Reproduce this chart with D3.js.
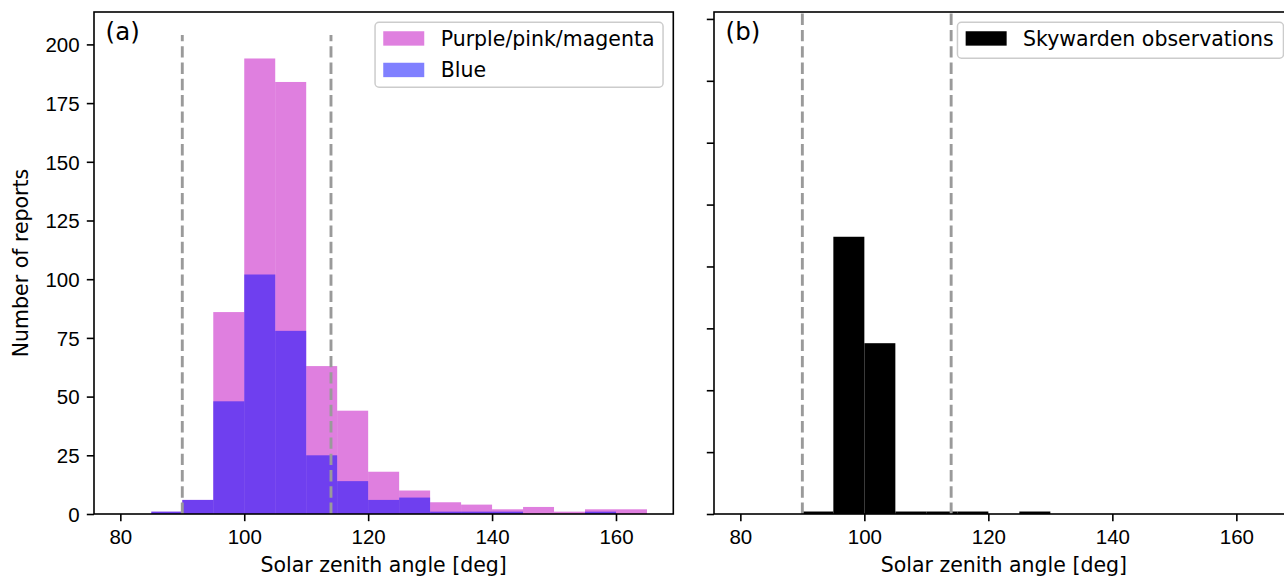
<!DOCTYPE html>
<html>
<head>
<meta charset="utf-8">
<script src="https://cdn.jsdelivr.net/npm/d3@7"></script>
<style>
  body { margin: 0; background: #fff; }
  svg { display: block; font-family: "DejaVu Sans", sans-serif; }
</style>
</head>
<body>
<div id="chart"></div>
<script>
// histogram bins, 5 deg wide (left edges)
const binStarts = [80, 85, 90, 95, 100, 105, 110, 115, 120, 125, 130, 135, 140, 145, 150, 155, 160];
const binWidth = 5;
// panel (a)
const pinkCounts = [0, 1, 6, 86, 194, 184, 63, 44, 18, 10, 5, 4, 2, 3, 1, 2, 2];
const blueCounts = [0, 1, 6, 48, 102, 78, 25, 14, 6, 7, 1, 1, 1, 0, 0, 1, 0];
// panel (b)
const skyCounts = [0, 0, 1, 112, 69, 1, 1, 1, 0, 1, 0, 0, 0, 0, 0, 0, 0];

const xTicks = [80, 100, 120, 140, 160];
const yTicks = [0, 25, 50, 75, 100, 125, 150, 175, 200];
const refLines = [90, 114];
const refTop = 204;

const W = 1284, H = 577;
const fs = 20.5;

const svg = d3.select("#chart").append("svg")
  .attr("width", W).attr("height", H);

// panel geometry
const plotTop = 12, plotBottom = 514;
const panels = [
  {left: 94, right: 673.3, ymax: 213.8, label: "(a)", showY: true},
  {left: 714, right: 1293.7, ymax: 202.8, label: "(b)", showY: false}
];

panels.forEach((p, i) => {
  p.x = d3.scaleLinear().domain([75.75, 169.25]).range([p.left, p.right]);
  p.y = d3.scaleLinear().domain([0, p.ymax]).range([plotBottom, plotTop]);

  const g = svg.append("g");
  p.g = g;

  const clipId = "clip" + i;
  svg.append("clipPath").attr("id", clipId)
    .append("rect").attr("x", p.left).attr("y", plotTop)
    .attr("width", p.right - p.left).attr("height", plotBottom - plotTop);
  p.plot = g.append("g").attr("clip-path", `url(#${clipId})`);
});

// bars
function drawBars(p, counts, color) {
  p.plot.append("g").selectAll("rect")
    .data(binStarts.map((b, i) => ({x0: b, x1: b + binWidth, v: counts[i]})).filter(d => d.v > 0))
    .join("rect")
      .attr("x", d => p.x(d.x0))
      .attr("width", d => p.x(d.x1) - p.x(d.x0))
      .attr("y", d => p.y(d.v))
      .attr("height", d => p.y(0) - p.y(d.v))
      .attr("fill", color);
}

drawBars(panels[0], pinkCounts, "rgba(191,0,191,0.5)");
drawBars(panels[0], blueCounts, "rgba(0,0,255,0.5)");
drawBars(panels[1], skyCounts, "#000");

// dashed reference lines
panels.forEach(p => {
  p.plot.append("g").selectAll("line")
    .data(refLines)
    .join("line")
      .attr("x1", d => p.x(d)).attr("x2", d => p.x(d))
      .attr("y1", p.y(0)).attr("y2", p.y(refTop))
      .attr("stroke", "#9a9a9a")
      .attr("stroke-width", 2.9)
      .attr("stroke-dasharray", "11.4,4.9");
});

// axes
panels.forEach(p => {
  const xAxis = d3.axisBottom(p.x).tickValues(xTicks).tickSize(7.2).tickPadding(7.2)
    .tickFormat(d3.format("d"));
  const gx = p.g.append("g").attr("transform", `translate(0,${plotBottom})`).call(xAxis);
  gx.select(".domain").remove();
  gx.selectAll(".tick line").attr("stroke", "#000").attr("stroke-width", 1.6);
  gx.selectAll(".tick text").attr("font-size", fs).attr("fill", "#000").attr("dy", null)
    .attr("y", 30);

  const yAxis = d3.axisLeft(p.y).tickValues(yTicks).tickSize(7.2).tickPadding(7.2);
  const gy = p.g.append("g").attr("transform", `translate(${p.left},0)`).call(yAxis);
  gy.select(".domain").remove();
  gy.selectAll(".tick line").attr("stroke", "#000").attr("stroke-width", 1.6);
  if (p.showY) {
    gy.selectAll(".tick text").attr("font-size", fs).attr("fill", "#000").attr("dy", "0.36em");
  } else {
    gy.selectAll(".tick text").remove();
  }

  // frame
  p.g.append("rect")
    .attr("x", p.left).attr("y", plotTop)
    .attr("width", p.right - p.left).attr("height", plotBottom - plotTop)
    .attr("fill", "none").attr("stroke", "#000").attr("stroke-width", 1.6);

  // x label
  p.g.append("text")
    .attr("x", (p.left + p.right) / 2).attr("y", 572)
    .attr("text-anchor", "middle").attr("font-size", fs)
    .text("Solar zenith angle [deg]");

  // panel label
  p.g.append("text")
    .attr("x", p.left + 11.6).attr("y", 40)
    .attr("font-size", 24.5)
    .text(p.label);
});

// y label
svg.append("text")
  .attr("transform", `translate(28,${(plotTop + plotBottom) / 2}) rotate(-90)`)
  .attr("text-anchor", "middle").attr("font-size", fs)
  .text("Number of reports");

// legends
function legend(p, items, width) {
  const boxRight = p.right - 10.25, boxTop = plotTop + 10.25;
  const rowStep = 31.5;
  const h = 36 + 29 * (items.length - 1);
  const lg = svg.append("g");
  lg.append("rect")
    .attr("x", boxRight - width).attr("y", boxTop)
    .attr("width", width).attr("height", h)
    .attr("rx", 4).attr("ry", 4)
    .attr("fill", "rgba(255,255,255,0.8)")
    .attr("stroke", "#cccccc").attr("stroke-width", 1.5);
  items.forEach((it, i) => {
    const cy = boxTop + 16.2 + i * rowStep;
    const hx = boxRight - width + 8.2;
    lg.append("rect")
      .attr("x", hx).attr("y", cy - 7.2)
      .attr("width", 41).attr("height", 14.4)
      .attr("fill", it.color);
    lg.append("text")
      .attr("x", hx + 41 + 16.4).attr("y", cy)
      .attr("dy", "0.36em").attr("font-size", fs)
      .text(it.name);
  });
}

legend(panels[0], [
  {name: "Purple/pink/magenta", color: "#df80df"},
  {name: "Blue", color: "#8080ff"}
], 288);
legend(panels[1], [
  {name: "Skywarden observations", color: "#000"}
], 326);
</script>
</body>
</html>
